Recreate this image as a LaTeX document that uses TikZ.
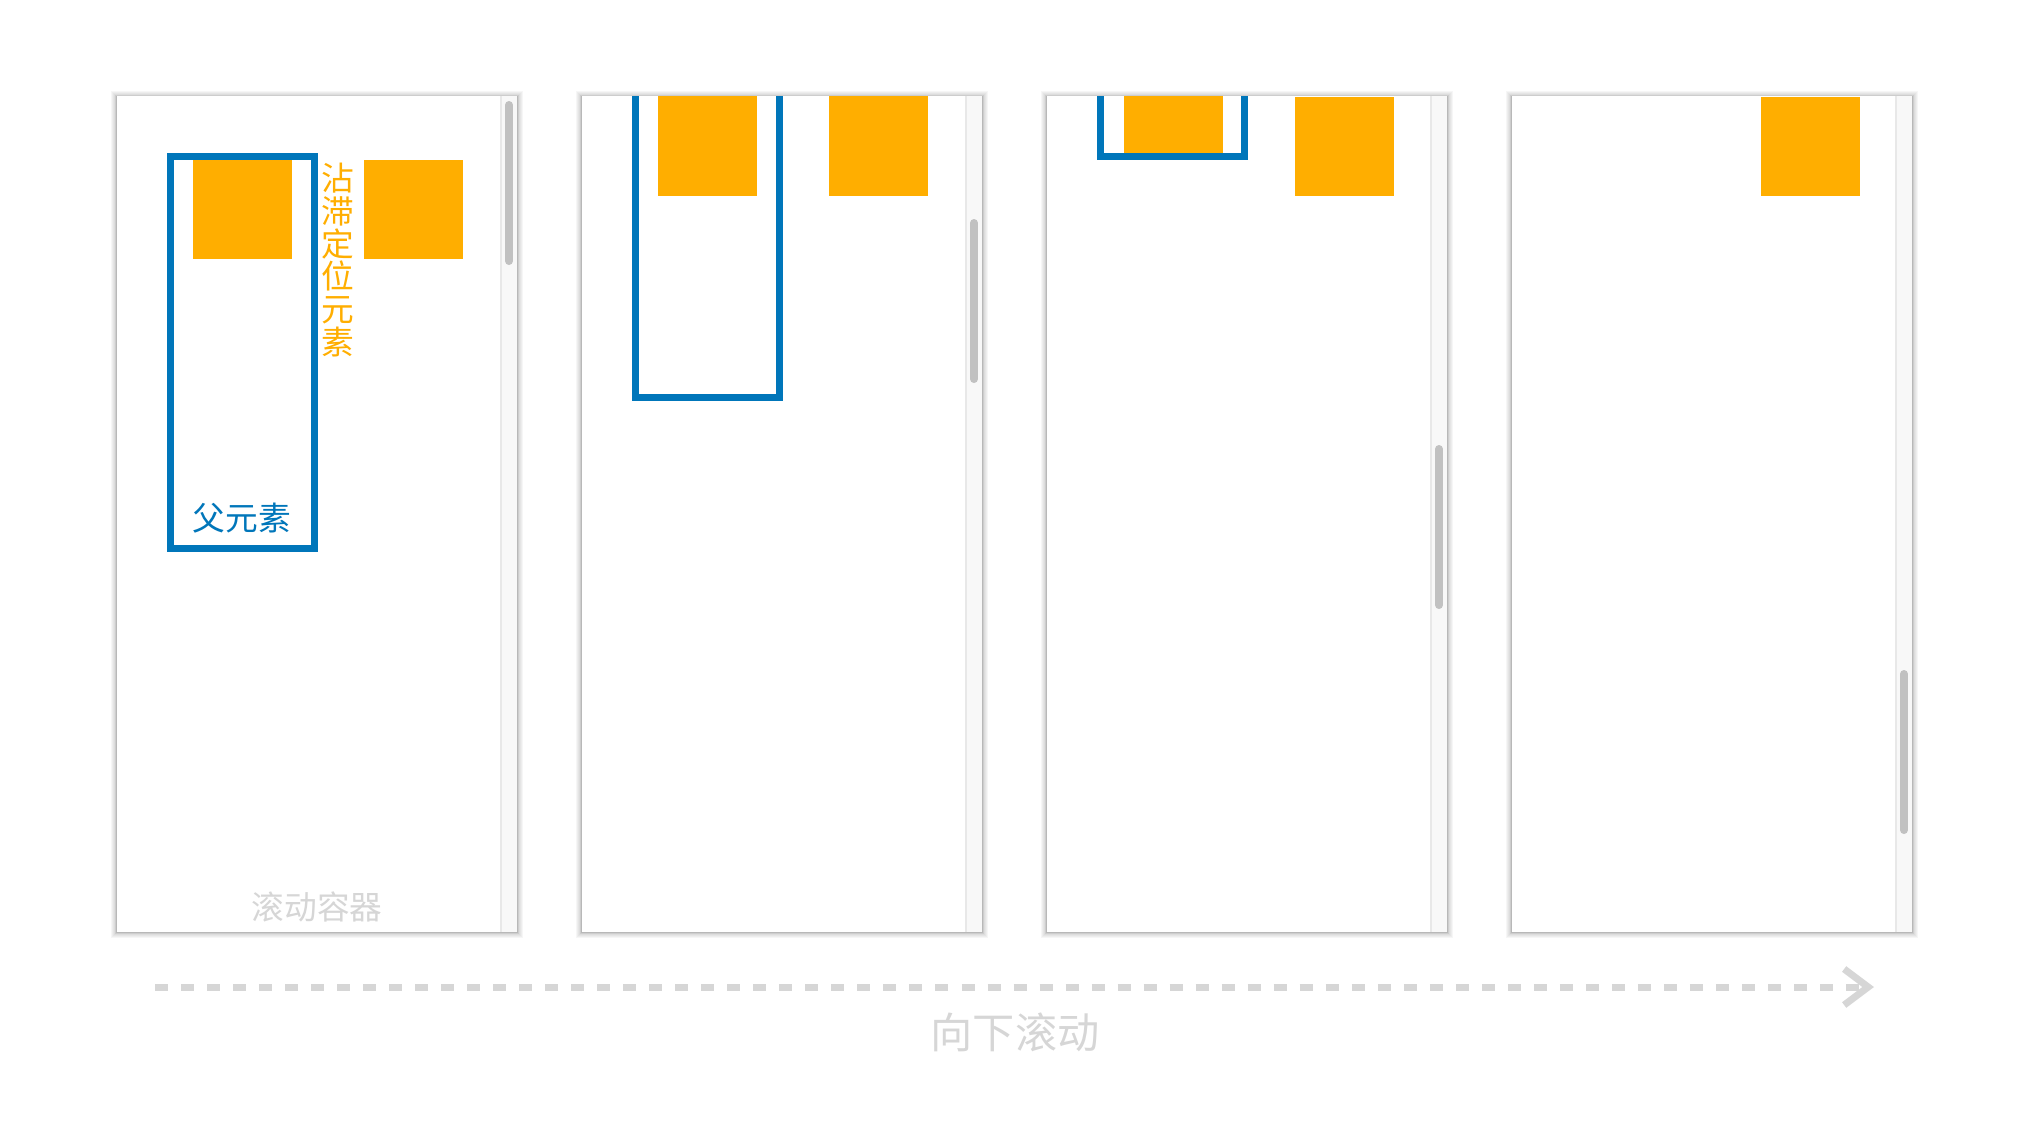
\documentclass[tikz,border=0pt]{standalone}
\usepackage{fontspec}
\newfontfamily\cjk{Noto Sans CJK SC}
\usepackage{xcolor}
\usetikzlibrary{arrows.meta}

\definecolor{stickyorange}{HTML}{FFAE00}
\definecolor{parentblue}{HTML}{0076BA}
\definecolor{hintgray}{HTML}{D6D6D6}
\definecolor{thumbgray}{HTML}{C1C1C1}
\definecolor{trackgray}{HTML}{F8F8F8}
\definecolor{trackline}{HTML}{E8E8E8}

\begin{document}
\begin{tikzpicture}[
    x=0.01cm, y=-0.01cm,
    shade/.style={fill=black, fill opacity=0.035, draw=none},
    panel/.style={fill=white, draw=none},
    track/.style={fill=trackgray, draw=none},
    trackedge/.style={draw=trackline, line width=0.02cm},
    thumb/.style={draw=thumbgray, line width=0.08cm, line cap=round},
    parent/.style={draw=parentblue, line width=0.07cm},
    sticky/.style={fill=stickyorange, draw=none},
    label/.style={inner sep=0pt, font=\cjk\fontsize{9.3pt}{9.3pt}\selectfont},
    arr/.style={draw=hintgray, line width=0.07cm, dash pattern=on 0.13cm off 0.13cm,
        -{Straight Barb[length=0.24cm, width=0.36cm, line width=0.07cm]}}
]
\useasboundingbox (0,0) rectangle (2036,1120);

% four snapshots of the scroll container
\foreach \i/\ty in {0/101, 1/219, 2/445, 3/670} {
    \pgfmathsetmacro\lx{117+465*\i}
    \foreach \k in {6,5,4,3,2,2,1,1,1}
        \fill[shade] (\lx-\k,96-\k+1) rectangle (\lx+400+\k,932+\k);
    \fill[panel] (\lx,96) rectangle (\lx+400,932);
    \fill[track] (\lx+384,96) rectangle (\lx+400,932);
    \draw[trackedge] (\lx+384,96) -- (\lx+384,932);
    \draw[thumb] (\lx+392,\ty+4) -- (\lx+392,\ty+160);
}

% snapshot 1
\begin{scope}
    \clip (117,96) rectangle (501,932);
    \draw[parent] (170.5,156.5) rectangle (314.5,548.5);
    \fill[sticky] (193,160) rectangle (292,259);
    \fill[sticky] (364,160) rectangle (463,259);
\end{scope}
\node[label, text=parentblue] (parentlabel) at (242,518) {父元素};
\node[label, text=stickyorange, align=center] (stickylabel) at (338,260) {沾\\滞\\定\\位\\元\\素};
\node[label, text=hintgray] (containerlabel) at (317,907) {滚动容器};

% snapshot 2
\begin{scope}
    \clip (582,96) rectangle (966,932);
    \draw[parent] (635.5,0) rectangle (779.5,397.5);
    \fill[sticky] (658,96) rectangle (757,196);
    \fill[sticky] (829,96) rectangle (928,196);
\end{scope}

% snapshot 3
\begin{scope}
    \clip (1047,96) rectangle (1431,932);
    \draw[parent] (1100.5,0) rectangle (1244.5,156.5);
    \fill[sticky] (1124,54) rectangle (1223,153);
    \fill[sticky] (1295,97) rectangle (1394,196);
\end{scope}

% snapshot 4
\begin{scope}
    \clip (1512,96) rectangle (1896,932);
    \fill[sticky] (1761,97) rectangle (1860,196);
\end{scope}

% scroll direction
\coordinate (arrstart) at (155,987);
\coordinate (arrend) at (1874,987);
\draw[arr] (arrstart) -- (arrend);
\node[inner sep=0pt, text=hintgray, font=\cjk\fontsize{12pt}{12pt}\selectfont] (scrolllabel) at (1015,1032) {向下滚动};
\end{tikzpicture}
\end{document}
